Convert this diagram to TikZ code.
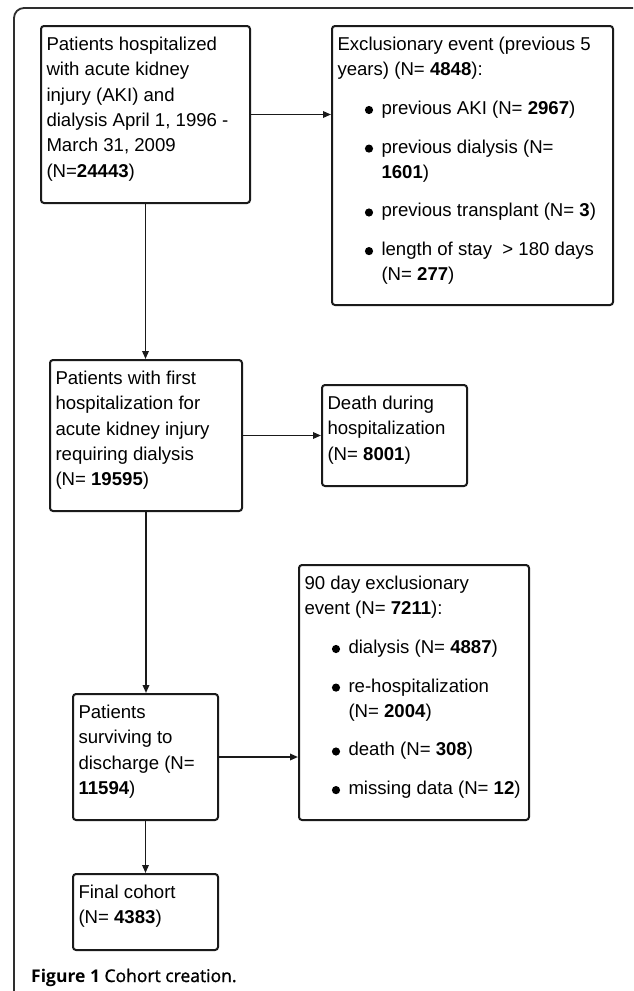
\documentclass[tikz,border=0pt]{standalone}
\usepackage{fontspec}
\setmainfont{Liberation Sans}
\newfontfamily\capfont{Open Sans}
\newfontface\capsemi[FakeBold=1.2]{Open Sans}
\usetikzlibrary{arrows.meta}
\definecolor{ink}{HTML}{1A1A1A}
\definecolor{framecol}{HTML}{2E2E2E}
\tikzset{
  box/.style={draw=ink, line width=2pt, rounded corners=3pt, anchor=north west, inner sep=0pt},
  txt/.style={anchor=base west, inner sep=0pt, xshift=6.3pt, yshift=-25.5pt,
    font=\fontsize{18.6pt}{25.3pt}\selectfont, text=black},
  conn/.style={draw=ink, line width=1.7pt, -{Triangle[length=8pt,width=6.5pt]}},
}
\newcommand{\bdot}{\tikz[baseline=0pt]\fill[black] (0pt,4.4pt) circle[radius=4.1pt];}
\newcommand{\bitem}{\hspace*{27.4pt}\bdot\hspace*{8.4pt}}
\newcommand{\hdr}[1]{\multicolumn{2}{@{}l@{}}{#1}}
\begin{document}
\begin{tikzpicture}[x=1pt,y=-1pt]
\useasboundingbox (0,0) rectangle (633,991);
\fill[white] (0,0) rectangle (633,991);
\draw[framecol, line width=1.8pt, rounded corners=10pt] (14,991) -- (14,8) -- (633,8);

\node[box, minimum width=209pt, minimum height=177pt] (b1) at (40,25) {};
\node[box, minimum width=281pt, minimum height=279pt] (b2) at (331,25) {};
\node[box, minimum width=192pt, minimum height=151pt] (b3) at (49,359) {};
\node[box, minimum width=145pt, minimum height=101pt] (b4) at (321,384) {};
\node[box, minimum width=230pt, minimum height=255pt] (b5) at (298,564) {};
\node[box, minimum width=145pt, minimum height=126pt] (b6) at (72,693) {};
\node[box, minimum width=145pt, minimum height=76pt] (b7) at (72,873) {};

\node[txt] (t1) at (b1.north west) {\begin{tabular}[t]{@{}l@{}}
Patients hospitalized\\
with acute kidney\\
injury (AKI) and\\
dialysis April 1, 1996 -\\
March 31, 2009\\
(N=\textbf{24443})
\end{tabular}};

\node[txt] (t2) at (b2.north west) {\begin{tabular}[t]{@{}l@{}l@{}}
\hdr{Exclusionary event (previous 5}\\
\hdr{years) (N= \textbf{4848}):}\\[13.3pt]
\bitem & previous AKI (N= \textbf{2967})\\[13.3pt]
\bitem & previous dialysis (N=\\
 & \textbf{1601})\\[13.3pt]
\bitem & previous transplant (N= \textbf{3})\\[13.3pt]
\bitem & length of stay \ > 180 days\\
 & (N= \textbf{277})
\end{tabular}};

\node[txt] (t3) at (b3.north west) {\begin{tabular}[t]{@{}l@{}}
Patients with first\\
hospitalization for\\
acute kidney injury\\
requiring dialysis\\
(N= \textbf{19595})
\end{tabular}};

\node[txt] (t4) at (b4.north west) {\begin{tabular}[t]{@{}l@{}}
Death during\\
hospitalization\\
(N= \textbf{8001})
\end{tabular}};

\node[txt] (t5) at (b5.north west) {\begin{tabular}[t]{@{}l@{}l@{}}
\hdr{90 day exclusionary}\\
\hdr{event (N= \textbf{7211}):}\\[13.3pt]
\bitem & dialysis (N= \textbf{4887})\\[13.3pt]
\bitem & re-hospitalization\\
 & (N= \textbf{2004})\\[13.3pt]
\bitem & death (N= \textbf{308})\\[13.3pt]
\bitem & missing data (N= \textbf{12})
\end{tabular}};

\node[txt] (t6) at (b6.north west) {\begin{tabular}[t]{@{}l@{}}
Patients\\
surviving to\\
discharge (N=\\
\textbf{11594})
\end{tabular}};

\node[txt] (t7) at (b7.north west) {\begin{tabular}[t]{@{}l@{}}
Final cohort\\
(N= \textbf{4383})
\end{tabular}};

\draw[conn] (b1.east) -- (b1.east -| b2.west);
\draw[conn] (b1.south) -- (b1.south |- b3.north);
\draw[conn] (b3.east) -- (b3.east -| b4.west);
\draw[conn] (b3.south) -- (b3.south |- b6.north);
\draw[conn] (b6.east) -- (b6.east -| b5.west);
\draw[conn] (b6.south) -- (b6.south |- b7.north);

\node[anchor=base west, inner sep=0pt, font=\capfont\fontsize{17.5pt}{21pt}\selectfont] (cap) at (31,982)
  {\textbf{Figure 1} {\capsemi Cohort creation.}};
\end{tikzpicture}
\end{document}
